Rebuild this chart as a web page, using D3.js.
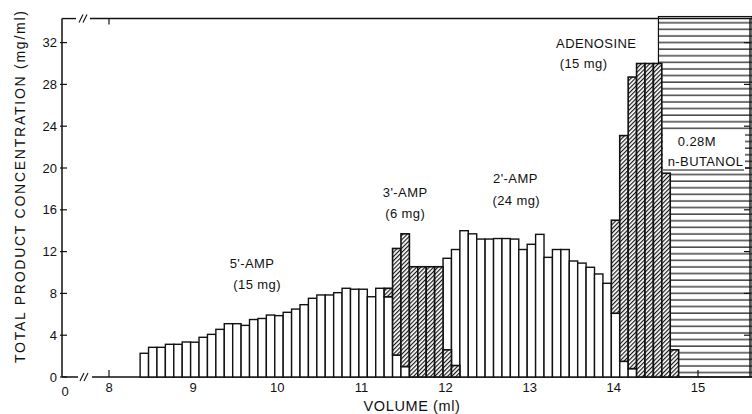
<!DOCTYPE html>
<html><head><meta charset="utf-8">
<script src="https://cdn.jsdelivr.net/npm/d3@7/dist/d3.min.js"></script>
<style>
body{margin:0;background:#fff}
svg{display:block}
text{font-family:"Liberation Sans",Arial,sans-serif;fill:#111}
</style>
</head><body>
<svg id="c" width="752" height="414"></svg>
<script>
// ---- data ----
const fractionStart = [8.37,8.47,8.57,8.67,8.77,8.87,8.97,9.07,9.17,9.27,
 9.37,9.47,9.57,9.67,9.77,9.87,9.97,10.07,10.17,10.27,
 10.37,10.47,10.57,10.67,10.77,10.87,10.97,11.07,11.17,11.27,
 11.37,11.47,11.57,11.67,11.77,11.87,11.97,12.07,12.17,12.27,
 12.37,12.47,12.57,12.67,12.77,12.87,12.97,13.07,13.17,13.27,
 13.37,13.47,13.57,13.67,13.77,13.87,13.97,14.07,14.17,14.27,
 14.37,14.47,14.57,14.67];
// open bars: 5'-AMP and 2'-AMP
const openBar = [2.27,2.84,2.84,3.13,3.13,3.35,3.33,3.8,4.08,4.56,
 5.1,5.1,4.94,5.5,5.6,5.93,5.87,6.19,6.5,6.92,
 7.53,7.85,7.85,8.07,8.49,8.4,8.4,7.68,8.49,7.68,
 2.1,1.0,0,0,0,0,11.36,12.2,14.0,13.7,
 13.2,13.2,13.25,13.25,13.2,12.2,12.7,13.65,11.45,12.2,
 12.2,11.1,10.9,10.5,9.86,8.97,6.1,1.5,0.8,0,
 0,0,0,0];
// hatched bars: 3'-AMP and adenosine (bottom / top of hatched part)
const hatchLow = [0,0,0,0,0,0,0,0,0,0, 0,0,0,0,0,0,0,0,0,0,
 0,0,0,0,0,0,0,0,0,7.68, 2.1,1.0,0,0,0,0,0,0,0,0,
 0,0,0,0,0,0,0,0,0,0, 0,0,0,0,0,0,6.1,1.5,0.8,0, 0,0,0,0];
const hatchHigh = [0,0,0,0,0,0,0,0,0,0, 0,0,0,0,0,0,0,0,0,0,
 0,0,0,0,0,0,0,0,0,8.49, 12.3,13.7,10.55,10.55,10.55,10.55,2.6,1.1,0,0,
 0,0,0,0,0,0,0,0,0,0, 0,0,0,0,0,0,15.0,23.1,28.7,30.0, 30.0,30.0,19.5,2.6];
const fractionWidth = 0.1;
const butanolStart = 14.53;
const yTicks = [0,4,8,12,16,20,24,28,32];
const xTicks = [8,9,10,11,12,13,14,15];
const rightTicks = [4,8,12,16,20,24,28,32];
const peakNames = ["5'-AMP","(15 mg)","3'-AMP","(6 mg)","2'-AMP","(24 mg)","ADENOSINE","(15 mg)"];
const peakVol   = [9.70,9.76,11.52,11.52,12.83,12.84,13.79,13.64];
const peakConc  = [10.43,8.42,17.22,15.21,18.56,16.46,31.48,29.57];

// ---- scales ----
const svg = d3.select("#c");
const x = d3.scaleLinear().domain([8,15]).range([109,698]);
const y = d3.scaleLinear().domain([0,32]).range([377,42.6]);
const yTop = 34.3;
const xLeft = 62, xRight = 750;

// patterns
const defs = svg.append("defs");
defs.append("pattern").attr("id","diag").attr("patternUnits","userSpaceOnUse")
  .attr("width",3).attr("height",10).attr("patternTransform","rotate(45)")
  .call(p=>{p.append("rect").attr("width",3).attr("height",10).attr("fill","#fff");
            p.append("line").attr("x1",0.6).attr("x2",0.6).attr("y1",0).attr("y2",10)
             .attr("stroke","#111").attr("stroke-width",1.15);});
defs.append("pattern").attr("id","horiz").attr("patternUnits","userSpaceOnUse")
  .attr("width",40).attr("height",6.6)
  .call(p=>{p.append("rect").attr("width",40).attr("height",6.6).attr("fill","#fff");
            p.append("line").attr("x1",0).attr("x2",40).attr("y1",3).attr("y2",3)
             .attr("stroke","#111").attr("stroke-width",1.2);});

// butanol region
svg.append("rect").attr("x",x(butanolStart)).attr("y",y(yTop)-2)
  .attr("width",752-x(butanolStart)).attr("height",y(0)-y(yTop)+2)
  .attr("fill","url(#horiz)").attr("stroke","#111").attr("stroke-width",1.2);

// axes frame
const g = svg.append("g").attr("stroke","#111").attr("fill","none");
g.append("line").attr("x1",xLeft).attr("x2",xLeft).attr("y1",y(yTop)).attr("y2",y(0)).attr("stroke-width",1.5);
g.append("line").attr("x1",xLeft).attr("x2",78).attr("y1",y(0)).attr("y2",y(0)).attr("stroke-width",1.5);
g.append("line").attr("x1",92).attr("x2",752).attr("y1",y(0)).attr("y2",y(0)).attr("stroke-width",1.7);
g.append("line").attr("x1",xLeft).attr("x2",76).attr("y1",y(yTop)).attr("y2",y(yTop)).attr("stroke-width",1.4);
g.append("line").attr("x1",90).attr("x2",752).attr("y1",y(yTop)).attr("y2",y(yTop)).attr("stroke-width",1.4);
g.append("line").attr("x1",xRight).attr("x2",xRight).attr("y1",y(yTop)).attr("y2",y(0)).attr("stroke-width",1.4);
[[84,y(0)],[83,y(yTop)]].forEach(([bx,by])=>{
  [-2,2].forEach(d=>g.append("line").attr("x1",bx+d-2).attr("x2",bx+d+2)
    .attr("y1",by+4).attr("y2",by-4).attr("stroke-width",1.1));
});
yTicks.forEach(t=>g.append("line").attr("x1",xLeft-2).attr("x2",xLeft+5).attr("y1",y(t)).attr("y2",y(t)).attr("stroke-width",1.2));
rightTicks.forEach(t=>g.append("line").attr("x1",xRight-6).attr("x2",xRight).attr("y1",y(t)).attr("y2",y(t)).attr("stroke-width",1.2));
xTicks.forEach(t=>g.append("line").attr("x1",x(t)).attr("x2",x(t)).attr("y1",y(0)).attr("y2",y(0)-7).attr("stroke-width",1.2));
g.append("line").attr("x1",x(8)).attr("x2",x(8)).attr("y1",y(yTop)).attr("y2",y(yTop)+6).attr("stroke-width",1.2);

// bars
const bw = x(8+fractionWidth)-x(8);
const bars = svg.append("g");
fractionStart.forEach((v,i)=>{
  if(openBar[i]>0){
    bars.append("rect").attr("x",x(v)).attr("y",y(openBar[i])).attr("width",bw)
      .attr("height",y(0)-y(openBar[i])).attr("fill","#fff").attr("stroke","#111").attr("stroke-width",1.4);
  }
});
fractionStart.forEach((v,i)=>{
  if(hatchHigh[i]>0){
    bars.append("rect").attr("x",x(v)).attr("y",y(hatchHigh[i])).attr("width",bw)
      .attr("height",y(hatchLow[i])-y(hatchHigh[i])).attr("fill","url(#diag)").attr("stroke","#111").attr("stroke-width",1.6);
  }
});

// tick labels
const tl = svg.append("g").attr("font-size",13);
yTicks.forEach(t=>tl.append("text").attr("x",xLeft-5).attr("y",y(t)+4.5).attr("text-anchor","end").text(t));
xTicks.forEach(t=>tl.append("text").attr("x",x(t)).attr("y",392).attr("text-anchor","middle").text(t));
tl.append("text").attr("x",65).attr("y",396).attr("text-anchor","middle").text("0");

// axis titles
svg.append("text").attr("x",412).attr("y",411).attr("text-anchor","middle").attr("font-size",14.5)
  .attr("letter-spacing",0.6).text("VOLUME (ml)");
svg.append("text").attr("transform","translate(25,187) rotate(-90)").attr("text-anchor","middle")
  .attr("font-size",14).attr("textLength",352).attr("lengthAdjust","spacing")
  .text("TOTAL PRODUCT CONCENTRATION (mg/ml)");

// peak labels
const pl = svg.append("g").attr("font-size",13).attr("letter-spacing",0.4);
peakNames.forEach((n,i)=>pl.append("text").attr("x",x(peakVol[i])).attr("y",y(peakConc[i]))
  .attr("text-anchor","middle").text(n));

// butanol label
const bl = svg.append("g").attr("font-size",13).attr("letter-spacing",0.4);
bl.append("rect").attr("x",663).attr("y",130).attr("width",82).attr("height",42).attr("fill","#fff");
bl.append("text").attr("x",x(14.76)).attr("y",y(22.1)).text("0.28M");
bl.append("text").attr("x",x(14.64)).attr("y",y(20.19)).text("n-BUTANOL");
bl.append("line").attr("x1",663).attr("x2",744).attr("y1",y(20.19)+4).attr("y2",y(20.19)+4)
  .attr("stroke","#111").attr("stroke-width",1.2);
</script>
</body></html>
